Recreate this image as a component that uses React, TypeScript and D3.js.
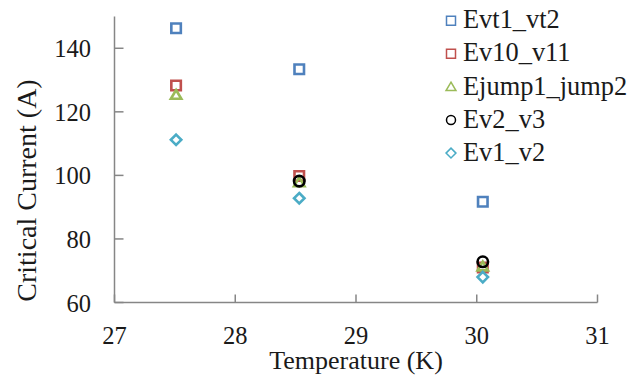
import React, { useRef, useEffect } from 'react';
import * as d3 from 'd3';

// temperatures (K) where the points sit
const temps = [27.51, 28.53, 30.05];

const seriesNames = ['Evt1_vt2', 'Ev10_v11', 'Ejump1_jump2', 'Ev2_v3', 'Ev1_v2'];
const seriesColors = ['#4f81bd', '#c0504d', '#9bbb59', '#000000', '#4bacc6'];
const seriesShapes = ['square', 'square', 'triangle', 'circle', 'diamond'];

// critical current (A), null = no point
const evt1Vt2 = [146.3, 133.4, 91.7];
const ev10V11 = [128.3, 99.8, 71.0];
const ejump1Jump2 = [125.3, 97.8, 71.3];
const ev2V3 = [null, 98.2, 72.8];
const ev1V2 = [111.2, 92.8, 68.0];

const xTicks = [27, 28, 29, 30, 31];
const yTicks = [60, 80, 100, 120, 140];

const App = () => {
  const svgRef = useRef<SVGSVGElement>(null);

  useEffect(() => {
    const W = 633, H = 380;
    const svg = d3.select(svgRef.current);
    svg.selectAll('*').remove();
    svg.attr('width', W).attr('height', H)
      .style('background', '#fff')
      .style('font-family', "'Liberation Serif'");

    const axisColor = '#868686';
    const textColor = '#1a1a1a';

    const x = d3.scaleLinear().domain([27, 31]).range([114.5, 597.5]);
    const y = d3.scaleLinear().domain([60, 150]).range([302.5, 16.5]);

    const g = svg.append('g');

    // axes lines
    g.append('line')
      .attr('x1', x(27)).attr('x2', x(27))
      .attr('y1', y(150)).attr('y2', y(60))
      .attr('stroke', axisColor).attr('stroke-width', 1.5);
    g.append('line')
      .attr('x1', x(27)).attr('x2', x(31))
      .attr('y1', y(60)).attr('y2', y(60))
      .attr('stroke', axisColor).attr('stroke-width', 1.5);

    // ticks (inside)
    g.selectAll('.ytick')
      .data(yTicks)
      .enter()
      .append('line')
      .attr('x1', x(27)).attr('x2', x(27) + 9)
      .attr('y1', d => y(d)).attr('y2', d => y(d))
      .attr('stroke', axisColor).attr('stroke-width', 1.5);
    g.selectAll('.xtick')
      .data(xTicks)
      .enter()
      .append('line')
      .attr('x1', d => x(d)).attr('x2', d => x(d))
      .attr('y1', y(60)).attr('y2', y(60) - 8)
      .attr('stroke', axisColor).attr('stroke-width', 1.5);

    // tick labels
    g.selectAll('.ylab')
      .data(yTicks)
      .enter()
      .append('text')
      .attr('x', 91)
      .attr('y', d => y(d) + 9)
      .attr('text-anchor', 'end')
      .style('font-size', '24.5px')
      .attr('fill', textColor)
      .text(d => d);
    g.selectAll('.xlab')
      .data(xTicks)
      .enter()
      .append('text')
      .attr('x', d => x(d))
      .attr('y', 344)
      .attr('text-anchor', 'middle')
      .style('font-size', '24.5px')
      .attr('fill', textColor)
      .text(d => d);

    // axis titles
    g.append('text')
      .attr('x', 356)
      .attr('y', 369)
      .attr('text-anchor', 'middle')
      .style('font-size', '26px')
      .attr('fill', textColor)
      .text('Temperature (K)');
    g.append('text')
      .attr('transform', 'translate(36,190.5) rotate(-90)')
      .attr('text-anchor', 'middle')
      .style('font-size', '28px')
      .attr('fill', textColor)
      .text('Critical Current (A)');

    const symbolPath = (shape: string, size: number) => {
      const s = size / 2;
      if (shape === 'square') return `M${-s},${-s}H${s}V${s}H${-s}Z`;
      if (shape === 'diamond') return `M0,${-s * 1.1}L${s * 1.1},0L0,${s * 1.1}L${-s * 1.1},0Z`;
      if (shape === 'triangle') return `M0,${-s * 1.05}L${s * 1.1},${s * 0.8}L${-s * 1.1},${s * 0.8}Z`;
      return `M${s},0A${s},${s} 0 1,1 ${-s},0A${s},${s} 0 1,1 ${s},0Z`;
    };

    const allSeries = [evt1Vt2, ev10V11, ejump1Jump2, ev2V3, ev1V2];

    // draw points
    allSeries.forEach((vals, i) => {
      const pts = vals
        .map((v, j) => ({ t: temps[j], v }))
        .filter(d => d.v !== null);
      g.selectAll(`.pt${i}`)
        .data(pts)
        .enter()
        .append('path')
        .attr('transform', d => `translate(${x(d.t)},${y(d.v as number)})`)
        .attr('d', symbolPath(seriesShapes[i], seriesShapes[i] === 'circle' ? 10.5 : 9.5))
        .attr('fill', 'none')
        .attr('stroke', seriesColors[i])
        .attr('stroke-width', 2.6);
    });

    // legend
    const legend = g.append('g');
    seriesNames.forEach((name, i) => {
      const base = 28.3 + i * 33.1;
      legend.append('path')
        .attr('transform', `translate(451,${base - 7.6})`)
        .attr('d', symbolPath(seriesShapes[i], 9))
        .attr('fill', 'none')
        .attr('stroke', seriesColors[i])
        .attr('stroke-width', 1.5);
      legend.append('text')
        .attr('x', 463)
        .attr('y', base)
        .style('font-size', '26.4px')
        .attr('fill', textColor)
        .text(name);
    });
  }, []);

  return (
    <div style={{ position: 'absolute', left: 0, top: 0 }}>
      <svg ref={svgRef}></svg>
    </div>
  );
};

export default App;
